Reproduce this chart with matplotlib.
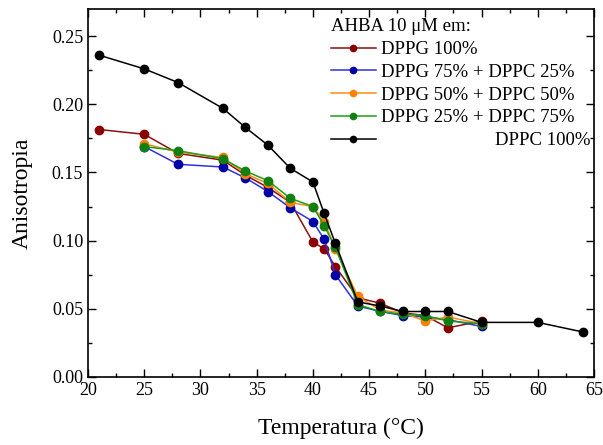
import matplotlib
matplotlib.use("Agg")
import matplotlib.pyplot as plt
from matplotlib.ticker import MultipleLocator

plt.rcParams['font.family'] = ['Liberation Serif', 'DejaVu Serif']

# temperatures (°C)
t_short = [21, 25, 28, 32, 34, 36, 38, 40, 41, 42, 44, 46, 48, 50, 52, 55]
t_mix = [25, 28, 32, 34, 36, 38, 40, 41, 42, 44, 46, 48, 50, 52, 55]
t_dppc = [21, 25, 28, 32, 34, 36, 38, 40, 41, 42, 44, 46, 48, 50, 52, 55, 60, 64]

dppg100 = [0.1815, 0.178, 0.164, 0.159, 0.148, 0.139, 0.128, 0.099, 0.094, 0.081,
           0.058, 0.054, 0.047, 0.045, 0.036, 0.041]
dppg75 = [0.169, 0.156, 0.154, 0.146, 0.136, 0.124, 0.114, 0.101, 0.075,
          0.052, 0.048, 0.045, 0.044, 0.042, 0.037]
dppg50 = [0.171, 0.165, 0.161, 0.149, 0.142, 0.128, 0.125, 0.114, 0.094,
          0.059, 0.049, 0.047, 0.041, 0.044, 0.039]
dppg25 = [0.169, 0.166, 0.160, 0.151, 0.144, 0.131, 0.125, 0.111, 0.095,
          0.053, 0.048, 0.046, 0.045, 0.041, 0.039]
dppc100 = [0.236, 0.226, 0.216, 0.197, 0.183, 0.170, 0.153, 0.143, 0.120, 0.098,
           0.055, 0.052, 0.048, 0.048, 0.048, 0.040, 0.040, 0.033]

series = [
    (t_short, dppg100, 'DPPG 100%', '#8b1010', '#8b0000'),
    (t_mix, dppg75, 'DPPG 75% + DPPC 25%', '#3030e0', '#0000a8'),
    (t_mix, dppg50, 'DPPG 50% + DPPC 50%', '#ff8c1a', '#ff8000'),
    (t_mix, dppg25, 'DPPG 25% + DPPC 75%', '#18a018', '#108010'),
    (t_dppc, dppc100, '                        DPPC 100%', '#000000', '#000000'),
]

fig = plt.figure(figsize=(6.03, 4.45), dpi=100)
ax = fig.add_axes([0.146, 0.153, 0.839, 0.827])

for x, y, lab, lc, mc in series:
    ax.plot(x, y, '-o', color=lc, lw=1.1, ms=6, mfc=mc, mec=mc, label=lab)

ax.set_xlim(20, 65)
ax.set_ylim(0, 0.27)
ax.xaxis.set_major_locator(MultipleLocator(5))
ax.xaxis.set_minor_locator(MultipleLocator(2.5))
ax.yaxis.set_major_locator(MultipleLocator(0.05))
ax.yaxis.set_minor_locator(MultipleLocator(0.025))
ax.yaxis.set_major_formatter(matplotlib.ticker.FormatStrFormatter('%.2f'))
ax.tick_params(which='both', direction='in', top=True, right=True, labelsize=13)
ax.tick_params(which='major', length=6, width=1)
ax.tick_params(which='minor', length=3, width=1)
for s in ax.spines.values():
    s.set_linewidth(1.2)

ax.set_xlabel('Temperatura (°C)', fontsize=17, labelpad=14)
ax.set_ylabel('Anisotropia', fontsize=17, labelpad=14)

leg = ax.legend(title='AHBA 10 μM em:', loc='upper right',
                bbox_to_anchor=(1.02, 1.01), frameon=False,
                fontsize=13.5, title_fontsize=13.5, handlelength=2.4,
                handletextpad=0.3, labelspacing=0.3, borderaxespad=0.3,
                markerscale=0.75)
leg._legend_box.align = 'left'

fig.savefig('out.png', dpi=100)
